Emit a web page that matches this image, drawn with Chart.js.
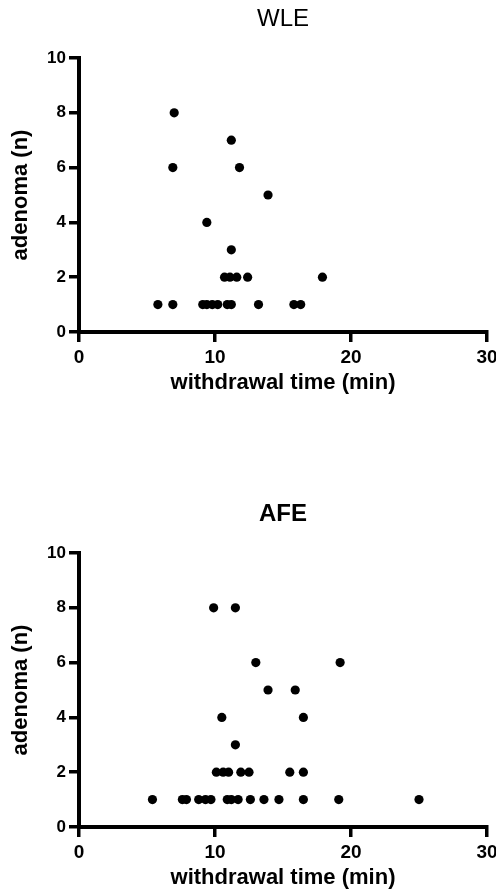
<!DOCTYPE html>
<html>
<head>
<meta charset="utf-8">
<script src="https://cdn.jsdelivr.net/npm/chart.js@4.4.1/dist/chart.umd.min.js"></script>
<style>
  body { margin: 0; background: #fff; }
  .panel { position: absolute; left: 0; width: 496px; height: 399px; }
</style>
</head>
<body>
<div class="panel" style="top:0"><canvas id="wleChart" width="496" height="399"></canvas></div>
<div class="panel" style="top:495px"><canvas id="afeChart" width="496" height="399"></canvas></div>
<script>
// withdrawal time (min) vs. number of adenomas per patient
const wleTime    = [7.0, 11.2, 6.9, 11.8, 13.9, 9.4, 11.2, 10.7, 11.1, 11.6, 12.4, 17.9,
                    5.8, 6.9, 9.1, 9.4, 9.8, 10.2, 10.9, 11.2, 13.2, 15.8, 16.3];
const wleAdenoma = [8, 7, 6, 6, 5, 4, 3, 2, 2, 2, 2, 2,
                    1, 1, 1, 1, 1, 1, 1, 1, 1, 1, 1];

const afeTime    = [9.9, 11.5, 13.0, 19.2, 13.9, 15.9, 10.5, 16.5, 11.5,
                    10.1, 10.6, 11.0, 11.9, 12.5, 15.5, 16.5,
                    5.4, 7.6, 7.9, 8.8, 9.3, 9.7, 10.9, 11.2, 11.7, 12.6, 13.6, 14.7, 16.5, 19.1, 25.0];
const afeAdenoma = [8, 8, 6, 6, 5, 5, 4, 4, 3,
                    2, 2, 2, 2, 2, 2, 2,
                    1, 1, 1, 1, 1, 1, 1, 1, 1, 1, 1, 1, 1, 1, 1];

const xTicks = [0, 10, 20, 30];
const yTicks = [0, 2, 4, 6, 8, 10];

const FONT = '"Liberation Sans", Arial, Helvetica, sans-serif';

// panel heading centred over the plot area
const panelTitle = {
    id: 'panelTitle',
    afterDraw(chart, args, opts) {
        const { ctx, chartArea } = chart;
        ctx.save();
        ctx.font = `${opts.weight} ${opts.size}px ${FONT}`;
        ctx.fillStyle = '#000';
        ctx.textAlign = 'center';
        ctx.textBaseline = 'middle';
        ctx.fillText(opts.text, (chartArea.left + chartArea.right) / 2, opts.y);
        ctx.restore();
    }
};

function axisStyle() {
    return {
        border: { display: true, color: '#000', width: 4 },
        grid: { display: true, drawOnChartArea: false, drawTicks: true, tickLength: 10, lineWidth: 3.5, tickWidth: 3.5, color: '#000', tickColor: '#000' }
    };
}

function makeScatter(id, title, weight, xs, ys) {
    const points = xs.map((x, i) => ({ x: x, y: ys[i] }));
    return new Chart(document.getElementById(id), {
        type: 'scatter',
        data: {
            datasets: [{
                data: points,
                backgroundColor: '#000',
                borderWidth: 0,
                pointRadius: 4.6,
                pointHoverRadius: 4.6
            }]
        },
        plugins: [panelTitle],
        options: {
            responsive: false,
            animation: false,
            devicePixelRatio: 1,
            layout: { padding: { top: 58, right: 9, left: 0, bottom: 0 } },
            plugins: {
                legend: { display: false },
                tooltip: { enabled: false },
                panelTitle: { text: title, weight: weight, size: 24, y: 19 }
            },
            scales: {
                x: {
                    type: 'linear', min: 0, max: 30,
                    ...axisStyle(),
                    afterBuildTicks: s => { s.ticks = xTicks.map(v => ({ value: v })); },
                    afterFit: s => { s.height = 67; s.paddingLeft = 0; s.paddingRight = 0; },
                    ticks: { color: '#000', font: { family: FONT, size: 19, weight: 'bold' }, padding: 4, maxRotation: 0 },
                    title: {
                        display: true, text: 'withdrawal time (min)', color: '#000',
                        font: { family: FONT, size: 22, weight: 'bold' },
                        padding: { top: 0, bottom: 3 }
                    }
                },
                y: {
                    type: 'linear', min: 0, max: 10,
                    ...axisStyle(),
                    afterBuildTicks: s => { s.ticks = yTicks.map(v => ({ value: v })); },
                    afterFit: s => { s.width = 79; },
                    ticks: { color: '#000', font: { family: FONT, size: 17, weight: 'bold' }, padding: 3 },
                    title: {
                        display: true, text: 'adenoma (n)', color: '#000',
                        font: { family: FONT, size: 22, weight: 'bold' },
                        padding: { top: 8, bottom: 0 }
                    }
                }
            }
        }
    });
}

makeScatter('wleChart', 'WLE', 'normal', wleTime, wleAdenoma);
makeScatter('afeChart', 'AFE', 'bold', afeTime, afeAdenoma);
</script>
</body>
</html>
